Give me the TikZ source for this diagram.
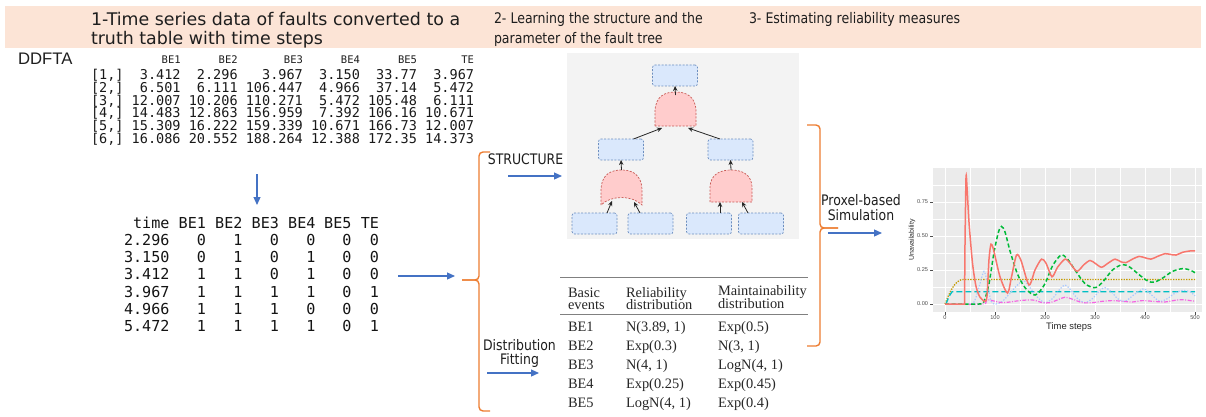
\documentclass[tikz,border=0pt]{standalone}
\usepackage{fontspec}
\usetikzlibrary{arrows.meta}
\setmainfont{DejaVu Sans}
\newfontfamily\verdfont{DejaVu Sans}
\newfontfamily\tahfont[FakeStretch=0.86]{DejaVu Sans}
\newfontfamily\arialfont{Liberation Sans}
\newfontfamily\consfont{DejaVu Sans Mono}
\newfontfamily\timesfont{Liberation Serif}

\definecolor{bandfill}{RGB}{252,228,214}
\definecolor{flowblue}{RGB}{68,114,196}
\definecolor{braceorange}{RGB}{237,125,49}
\definecolor{treebg}{RGB}{243,243,243}
\definecolor{boxfill}{RGB}{218,232,252}
\definecolor{boxedge}{RGB}{108,142,191}
\definecolor{gatefill}{RGB}{255,204,204}
\definecolor{gateedge}{RGB}{200,90,85}
\definecolor{rulegray}{RGB}{128,128,128}
\definecolor{panelgray}{RGB}{235,235,235}
\definecolor{axisgray}{RGB}{77,77,77}
\definecolor{ggred}{HTML}{F8766D}
\definecolor{gggold}{HTML}{C49A00}
\definecolor{gggreen}{HTML}{00BA38}
\definecolor{ggcyan}{HTML}{00BFC4}
\definecolor{ggblue}{HTML}{619CFF}
\definecolor{ggpink}{HTML}{F564E3}
\definecolor{inktext}{RGB}{30,30,30}

\tikzset{
  every node/.style={inner sep=0pt, outer sep=0pt, text=inktext},
  flow/.style={draw=flowblue, line width=1.2pt, -{Triangle[length=8pt,width=7pt]}},
  brc/.style={draw=braceorange, line width=1.4pt, rounded corners=4pt},
  hdrA/.style={font=\verdfont\fontsize{17.4}{20}\selectfont, anchor=base west},
  hdrB/.style={font=\tahfont\fontsize{14.6}{17}\selectfont, anchor=base west},
  lbl/.style={font=\tahfont\fontsize{14.5}{17}\selectfont, anchor=base},
  rawtxt/.style={font=\consfont\fontsize{13.54}{15}\selectfont, text=black!90},
  rawhead/.style={font=\consfont\fontsize{10.5}{12}\selectfont, anchor=base east},
  bintxt/.style={font=\consfont\fontsize{15.1}{17}\selectfont, anchor=base east, text=black!92},
  disttxt/.style={font=\timesfont\fontsize{14.4}{16}\selectfont, anchor=base west, text=black!85},
  ftbox/.style={draw=boxedge, dash pattern=on 2pt off 1.5pt, fill=boxfill,
    rounded corners=2.5pt, line width=0.7pt, minimum width=45pt, minimum height=21pt},
  gatearea/.style={minimum width=41pt, minimum height=34pt},
  gatepath/.style={draw=gateedge, dash pattern=on 2pt off 1.5pt, fill=gatefill, line width=0.7pt},
  ftarrow/.style={draw=black!85, line width=0.8pt, -{Stealth[length=5pt,width=4.5pt]}},
  gridmaj/.style={draw=white, line width=0.9pt},
  gridmin/.style={draw=white, line width=0.45pt},
  ticklbl/.style={font=\arialfont\fontsize{5.6}{6}\selectfont, text=axisgray},
}

\begin{document}
\begin{tikzpicture}[x=1pt,y=-1pt]
\useasboundingbox (0,0) rectangle (1206,417);

% ---------- header band ----------
\fill[bandfill] (5,6) rectangle (1201,48);
\node[hdrA] (h1a) at (91,25.5) {1-Time series data of faults converted to a};
\node[hdrA] (h1b) at (91,45) {truth table with time steps};
\node[hdrB] (h2a) at (494,24) {2- Learning the structure and the};
\node[hdrB] (h2b) at (494,43.5) {parameter of the fault tree};
\node[hdrB] (h3a) at (749,24) {3- Estimating reliability measures};

\node[font=\arialfont\fontsize{16.7}{18}\selectfont, anchor=base west] (ddfta) at (18,65) {DDFTA};

% ---------- raw time series of failures ----------
\foreach \n/\xx in {BE1/180.65, BE2/237.7, BE3/302.9, BE4/359.95, BE5/417.0, TE/474.05}
  \node[rawhead] (hd\n) at (\xx,63.5) {\n};
\foreach \a/\b/\c/\d/\e/\f [count=\i] in {
  3.412/2.296/3.967/3.150/33.77/3.967,
  6.501/6.111/106.447/4.966/37.14/5.472,
  12.007/10.206/110.271/5.472/105.48/6.111,
  14.483/12.863/156.959/7.392/106.16/10.671,
  15.309/16.222/159.339/10.671/166.73/12.007,
  16.086/20.552/188.264/12.388/172.35/14.373}{
  \pgfmathsetmacro\yb{80+12.6*(\i-1)}
  \node[rawtxt, anchor=base west] (rl\i) at (91,\yb) {[\i,]};
  \node[rawtxt, anchor=base east] (ra\i) at (180.65,\yb) {\a};
  \node[rawtxt, anchor=base east] (rb\i) at (237.7,\yb) {\b};
  \node[rawtxt, anchor=base east] (rc\i) at (302.9,\yb) {\c};
  \node[rawtxt, anchor=base east] (rd\i) at (359.95,\yb) {\d};
  \node[rawtxt, anchor=base east] (re\i) at (417.0,\yb) {\e};
  \node[rawtxt, anchor=base east] (rf\i) at (474.05,\yb) {\f};
}

% ---------- truth table ----------
\coordinate (dnA) at (257,174);
\coordinate (dnB) at (257,205);
\draw[flow] (dnA) -- (dnB);

\foreach \n/\xx in {time/169.5, BE1/206, BE2/242.5, BE3/279, BE4/315.5, BE5/351.5, TE/379}
  \node[bintxt] (th\n) at (\xx,228) {\n};
\foreach \t/\a/\b/\c/\d/\e/\f [count=\i] in {
  2.296/0/1/0/0/0/0,
  3.150/0/1/0/1/0/0,
  3.412/1/1/0/1/0/0,
  3.967/1/1/1/1/0/1,
  4.966/1/1/1/0/0/0,
  5.472/1/1/1/1/0/1}{
  \pgfmathsetmacro\yb{245.5+17.2*(\i-1)}
  \node[bintxt] (tt\i) at (169.5,\yb) {\t};
  \node[bintxt] (ta\i) at (206,\yb) {\a};
  \node[bintxt] (tb\i) at (242.5,\yb) {\b};
  \node[bintxt] (tc\i) at (279,\yb) {\c};
  \node[bintxt] (td\i) at (315.5,\yb) {\d};
  \node[bintxt] (te\i) at (351.5,\yb) {\e};
  \node[bintxt] (tf\i) at (379,\yb) {\f};
}

\coordinate (ttOut) at (398,276);
\coordinate (braceA) at (455,276);
\draw[flow] (ttOut) -- (braceA);

% ---------- left brace ----------
\draw[brc] (490,152) -- (479,152) -- (479,280) -- (462,280);
\draw[brc] (462,280) -- (479,280) -- (479,411) -- (490,411);

% ---------- structure branch ----------
\node[lbl] (struct) at (525.5,164.3) {STRUCTURE};
\coordinate (stA) at (508,176);
\coordinate (stB) at (562,176);
\draw[flow] (stA) -- (stB);

% fault tree
\fill[treebg] (567,53) rectangle (799,239);
\node[ftbox] (T) at (675,75.5) {};
\node[ftbox] (M1) at (621,149.5) {};
\node[ftbox] (M2) at (730.5,149.5) {};
\node[ftbox] (B1) at (594.5,223.5) {};
\node[ftbox] (B2) at (650.5,223.5) {};
\node[ftbox] (B3) at (709,223.5) {};
\node[ftbox] (B4) at (761,223.5) {};

\node[gatearea] (G0) at (675.5,109) {};
\node[gatearea, minimum height=35pt] (G1) at (621.5,187.5) {};
\node[gatearea, minimum width=42pt, minimum height=32pt] (G2) at (731,186) {};

% AND gates: flat base, domed top
\foreach \g in {G0,G2}
  \draw[gatepath] (\g.south west) -- ([yshift=14pt]\g.south west)
    .. controls ([yshift=-3pt]\g.north west) and ([xshift=-9pt]\g.north) .. (\g.north)
    .. controls ([xshift=9pt]\g.north) and ([yshift=-3pt]\g.north east) .. ([yshift=14pt]\g.south east)
    -- (\g.south east) -- cycle;
% OR gate: hollow base
\draw[gatepath] (G1.south west) -- ([yshift=14pt]G1.south west)
    .. controls ([yshift=-3pt]G1.north west) and ([xshift=-9pt]G1.north) .. (G1.north)
    .. controls ([xshift=9pt]G1.north) and ([yshift=-3pt]G1.north east) .. ([yshift=14pt]G1.south east)
    -- (G1.south east)
    .. controls ([xshift=-10pt,yshift=10pt]G1.south east) and ([xshift=10pt,yshift=10pt]G1.south west) .. (G1.south west) -- cycle;

\draw[ftarrow] ([yshift=-3pt]G0.north) -- (T.south);
\draw[ftarrow] ([xshift=-10pt]M1.north east) -- ([xshift=-13.5pt,yshift=-2pt]G0.south);
\draw[ftarrow] ([xshift=12pt]M2.north west) -- ([xshift=12.5pt,yshift=-2pt]G0.south);
\draw[ftarrow] (G1.north) -- (M1.south);
\draw[ftarrow] (G2.north) -- (M2.south);
\draw[ftarrow] ([xshift=12.5pt]B1.north) -- ([xshift=-9.5pt,yshift=4pt]G1.south);
\draw[ftarrow] ([xshift=-10.5pt]B2.north) -- ([xshift=12.5pt,yshift=3pt]G1.south);
\draw[ftarrow] ([xshift=11pt]B3.north) -- ([xshift=-11pt]G2.south);
\draw[ftarrow] ([xshift=-13pt]B4.north) -- ([xshift=11pt]G2.south);

% ---------- distribution fitting branch ----------
\node[lbl] (distA) at (519.5,350) {Distribution};
\node[lbl] (distB) at (519.5,364.5) {Fitting};
\coordinate (dfA) at (487,373);
\coordinate (dfB) at (539,373);
\draw[flow] (dfA) -- (dfB);

\coordinate (ruleL1) at (560,277.5);
\coordinate (ruleR1) at (808,277.5);
\coordinate (ruleL2) at (560,314.5);
\coordinate (ruleR2) at (808,314.5);
\draw[rulegray, line width=1.3pt] (ruleL1) -- (ruleR1);
\draw[rulegray, line width=1.3pt] (ruleL2) -- (ruleR2);
\node[disttxt] (dh1a) at (568,297) {Basic};
\node[disttxt] (dh1b) at (568,309.5) {events};
\node[disttxt] (dh2a) at (626,297) {Reliability};
\node[disttxt] (dh2b) at (626,309.5) {distribution};
\node[disttxt] (dh3a) at (718,295) {Maintainability};
\node[disttxt] (dh3b) at (718,308) {distribution};
\foreach \e/\r/\m [count=\i] in {
  BE1/{N(3.89, 1)}/{Exp(0.5)},
  BE2/{Exp(0.3)}/{N(3, 1)},
  BE3/{N(4, 1)}/{LogN(4, 1)},
  BE4/{Exp(0.25)}/{Exp(0.45)},
  BE5/{LogN(4, 1)}/{Exp(0.4)}}{
  \pgfmathsetmacro\yb{331.7+19*(\i-1)}
  \node[disttxt] (de\i) at (568,\yb) {\e};
  \node[disttxt] (dr\i) at (626,\yb) {\r};
  \node[disttxt] (dm\i) at (718,\yb) {\m};
}

% ---------- right brace and simulation ----------
\draw[brc] (807,125) -- (820,125) -- (820,228) -- (838,228);
\draw[brc] (838,228) -- (820,228) -- (820,346) -- (807,346);

\node[lbl] (proxA) at (861,205) {Proxel-based};
\node[lbl] (proxB) at (861,220) {Simulation};
\coordinate (pxA) at (828,233);
\coordinate (pxB) at (882,233);
\draw[flow] (pxA) -- (pxB);

% ---------- unavailability chart ----------
\begin{scope}[shift={(945,304)}]
\begin{scope}[x=0.5pt,y=136pt]
  \fill[panelgray] (-24,-0.058) rectangle (514,1.0);
  \foreach \t in {50,150,...,450} \draw[gridmin] (\t,-0.058) -- (\t,1.0);
  \foreach \u in {0.125,0.375,0.625,0.875} \draw[gridmin] (-24,\u) -- (514,\u);
  \foreach \t in {0,100,...,500} \draw[gridmaj] (\t,-0.058) -- (\t,1.0);
  \foreach \u in {0,0.25,0.5,0.75} \draw[gridmaj] (-24,\u) -- (514,\u);
  \foreach \t in {0,100,...,500} \draw[axisgray, line width=0.4pt] (\t,-0.058) -- (\t,-0.078);
  \foreach \u in {0,0.25,0.5,0.75} \draw[axisgray, line width=0.4pt] (-24,\u) -- (-30,\u);

  \begin{scope}
  \clip (-24,-0.058) rectangle (514,1.0);
  % gold, dotted
  \draw[gggold, line width=1.3pt, dash pattern=on 1.3pt off 1.3pt]
    plot[smooth, tension=0.6] coordinates {(0,0) (8,0.07) (16,0.125) (24,0.16) (32,0.178) (40,0.18)}
    -- (500,0.18);
  % cyan, long dash
  \draw[ggcyan, line width=1.3pt, dash pattern=on 6pt off 3pt]
    (2,0) -- (8,0.055) -- (14,0.09) -- (500,0.09);
  % light blue, dotted
  \draw[ggblue!55, line width=1.2pt, dash pattern=on 1.3pt off 1.6pt]
    plot[smooth, tension=0.5] coordinates {(0,0) (50,0) (60,0.03) (70,0.15) (78,0.24) (85,0.15)
      (92,0.02) (102,0) (115,0.02) (130,0.08) (145,0.14) (158,0.17) (170,0.12) (185,0.05)
      (200,0.01) (215,0.04) (230,0.11) (240,0.14) (250,0.11) (265,0.04) (280,0.01) (295,0.04)
      (310,0.1) (320,0.12) (333,0.09) (345,0.04) (360,0.02) (375,0.06) (390,0.1) (400,0.11)
      (415,0.06) (430,0.02) (445,0.04) (460,0.08) (475,0.1) (490,0.09) (500,0.06)};
  % magenta, dot-dash
  \draw[ggpink, line width=1.2pt, dash pattern=on 4pt off 1.5pt on 1pt off 1.5pt]
    plot[smooth, tension=0.5] coordinates {(0,0) (75,0) (82,0.02) (88,0.03) (100,0.02)
      (115,0.01) (130,0.015) (150,0.025) (175,0.03) (195,0.01) (210,0.01) (225,0.03)
      (240,0.05) (255,0.035) (275,0.01) (295,0.01) (315,0.02) (335,0.025) (355,0.02)
      (375,0.015) (395,0.025) (415,0.02) (440,0.015) (465,0.03) (480,0.03) (500,0.02)};
  % green, dashed
  \draw[gggreen, line width=1.5pt, dash pattern=on 4pt off 2.5pt]
    plot[smooth, tension=0.5] coordinates {(0,0) (68,0) (78,0.02) (88,0.15) (98,0.38)
      (107,0.53) (113,0.57) (120,0.53) (130,0.39) (145,0.22) (160,0.12) (175,0.07)
      (185,0.075) (200,0.15) (215,0.28) (232,0.36) (245,0.33) (260,0.25) (280,0.15)
      (300,0.12) (315,0.16) (335,0.25) (355,0.29) (370,0.27) (390,0.21) (405,0.17)
      (418,0.16) (435,0.19) (455,0.24) (475,0.26) (490,0.25) (500,0.23)};
  % red, solid
  \draw[ggred, line width=1.5pt] (0,0) -- (39,0) -- (40,0.45)
    plot[smooth, tension=0.45] coordinates {(40,0.45) (42,0.93) (44,0.86) (48,0.6)
      (55,0.3) (62,0.13) (70,0.05) (80,0.02) (84,0.06) (88,0.33) (92,0.44) (97,0.4)
      (110,0.2) (125,0.08) (133,0.2) (143,0.36) (152,0.32) (168,0.14) (180,0.25)
      (193,0.33) (202,0.3) (214,0.2) (225,0.27) (240,0.33) (250,0.3) (264,0.24)
      (278,0.29) (290,0.32) (300,0.3) (313,0.27) (326,0.3) (340,0.33) (352,0.31)
      (362,0.305) (375,0.33) (388,0.35) (400,0.34) (412,0.33) (425,0.35) (440,0.37)
      (450,0.365) (462,0.36) (475,0.38) (490,0.39) (500,0.39)};
  \end{scope}
\end{scope}
\end{scope}

\foreach \v/\yy [count=\i] in {0.00/304, 0.25/270, 0.50/236, 0.75/202}
  \node[ticklbl, anchor=east] (yl\i) at (928,\yy) {\v};
\foreach \v/\xx [count=\i] in {0/945, 100/995, 200/1045, 300/1095, 400/1145, 500/1195}
  \node[ticklbl, anchor=north] (xl\i) at (\xx,316) {\v};
\node[font=\arialfont\fontsize{9.4}{10}\selectfont, text=black!85, anchor=north] (xt) at (1069,323) {Time steps};
\node[font=\arialfont\fontsize{7}{8}\selectfont, text=black!85, rotate=90] (yt) at (912,240) {Unavailability};

\end{tikzpicture}
\end{document}
